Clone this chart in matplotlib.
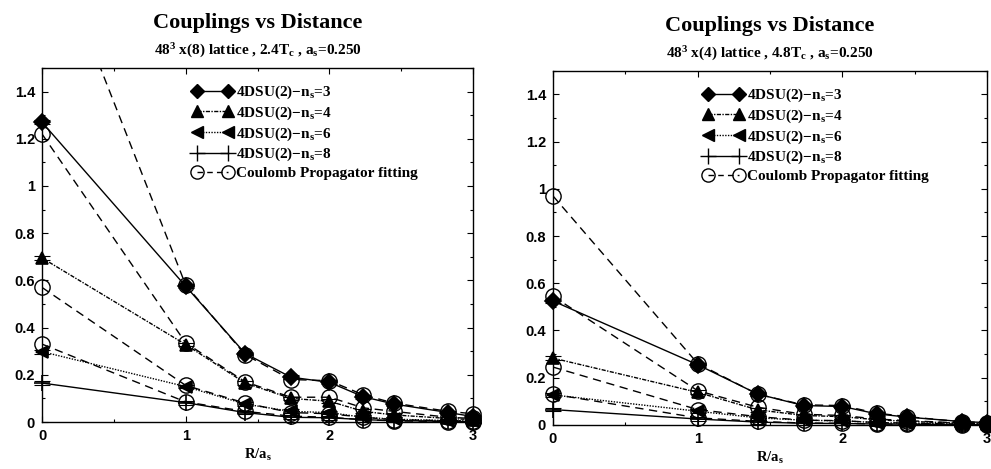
import numpy as np
import matplotlib
matplotlib.use("Agg")
import matplotlib.pyplot as plt
from matplotlib.lines import Line2D
from matplotlib.ticker import FuncFormatter, MultipleLocator

# ---------------- data ----------------
r_vals = [0, 1, np.sqrt(2), np.sqrt(3), 2, np.sqrt(5), np.sqrt(6), np.sqrt(8), 3]

series_labels = [r"4DSU(2)$-$n$_{\rm s}$=3", r"4DSU(2)$-$n$_{\rm s}$=4",
                 r"4DSU(2)$-$n$_{\rm s}$=6", r"4DSU(2)$-$n$_{\rm s}$=8"]
fit_label = "Coulomb Propagator fitting"

titles = ["Couplings vs Distance", "Couplings vs Distance"]
subtitles = [r"48$^{3}$ x(8) lattice , 2.4T$_{\rm c}$ , a$_{\rm s}$=0.250",
             r"48$^{3}$ x(4) lattice , 4.8T$_{\rm c}$ , a$_{\rm s}$=0.250"]
xlabel_text = r"R/a$_{\rm s}$"

# left panel: 48^3 x (8)
left_ns3 = [1.27, 0.575, 0.29, 0.19, 0.168, 0.107, 0.076, 0.04, 0.023]
left_ns4 = [0.695, 0.328, 0.165, 0.10, 0.088, 0.045, 0.03, 0.015, 0.01]
left_ns6 = [0.298, 0.15, 0.076, 0.045, 0.04, 0.02, 0.012, 0.006, 0.004]
left_ns8 = [0.165, 0.082, 0.04, 0.02, 0.018, 0.01, 0.006, 0.003, 0.002]
left_fit3 = [2.13, 0.58, 0.285, 0.18, 0.175, 0.115, 0.08, 0.045, 0.035]
left_fit4 = [1.22, 0.335, 0.17, 0.105, 0.105, 0.06, 0.045, 0.02, 0.015]
left_fit6 = [0.57, 0.155, 0.08, 0.04, 0.035, 0.02, 0.01, 0.005, 0.004]
left_fit8 = [0.33, 0.085, 0.045, 0.025, 0.02, 0.01, 0.005, 0.002, 0.0]

# right panel: 48^3 x (4)
right_ns3 = [0.525, 0.255, 0.131, 0.082, 0.078, 0.047, 0.033, 0.014, 0.01]
right_ns4 = [0.283, 0.138, 0.064, 0.04, 0.035, 0.022, 0.015, 0.007, 0.005]
right_ns6 = [0.127, 0.058, 0.03, 0.02, 0.017, 0.01, 0.007, 0.003, 0.002]
right_ns8 = [0.065, 0.025, 0.012, 0.007, 0.006, 0.004, 0.003, 0.001, 0.001]
right_fit3 = [0.97, 0.26, 0.13, 0.085, 0.082, 0.05, 0.035, 0.013, 0.01]
right_fit4 = [0.545, 0.145, 0.075, 0.045, 0.04, 0.025, 0.018, 0.008, 0.005]
right_fit6 = [0.245, 0.065, 0.035, 0.02, 0.018, 0.01, 0.008, 0.003, 0.002]
right_fit8 = [0.13, 0.03, 0.015, 0.008, 0.007, 0.004, 0.003, 0.001, 0.0]

yerr_size = 0.008

panels = [
    dict(data=[left_ns3, left_ns4, left_ns6, left_ns8],
         fits=[left_fit3, left_fit4, left_fit6, left_fit8]),
    dict(data=[right_ns3, right_ns4, right_ns6, right_ns8],
         fits=[right_fit3, right_fit4, right_fit6, right_fit8]),
]

# ---------------- style ----------------
SERIF = ["Liberation Serif", "DejaVu Serif"]
SANS = ["Liberation Sans", "DejaVu Sans"]
plt.rcParams["mathtext.fontset"] = "custom"
plt.rcParams["mathtext.rm"] = "Liberation Serif:bold"
plt.rcParams["mathtext.it"] = "Liberation Serif:bold"
plt.rcParams["mathtext.bf"] = "Liberation Serif:bold"

markers = ["D", "^", "<", "+"]
msizes = [8, 9, 9, 12]
leg_msizes = [7, 8, 8, 11]
lstyles = ["-", (0, (3, 1, 1, 1)), (0, (1, 1)), "-"]

fig = plt.figure(figsize=(9.91, 4.69), dpi=100)
axes_pos = [[0.0424, 0.1002, 0.435, 0.755], [0.558, 0.094, 0.438, 0.755]]
legend_x = [0.335, 0.333]

for pi, (panel, pos) in enumerate(zip(panels, axes_pos)):
    ax = fig.add_axes(pos)
    x = np.array(r_vals)
    for k in range(4):
        y = np.array(panel["data"][k])
        ax.plot(x, y, linestyle=lstyles[k], color="black", lw=1.0, zorder=3)
        ax.errorbar(x, y, yerr=yerr_size, fmt="none", ecolor="black",
                    elinewidth=0.8, capsize=6, capthick=0.8, zorder=3,
                    clip_on=False)
        ax.plot(x, y, linestyle="none", marker=markers[k], ms=msizes[k],
                mfc="black", mec="black", mew=1.2, color="black",
                clip_on=False, zorder=4)
        f = np.array(panel["fits"][k])
        ax.plot(x, f, linestyle=(0, (6, 4)), color="black", lw=1.0, zorder=2)
        inside = f <= 1.5
        ax.plot(x[inside], f[inside], linestyle="none", marker="o", ms=11,
                mfc="none", mec="black", mew=1.0, clip_on=False, zorder=5)

    ax.set_xlim(0, 3)
    ax.set_ylim(0, 1.5)
    ax.set_xticks([0, 1, 2, 3])
    ax.set_yticks([0, 0.2, 0.4, 0.6, 0.8, 1.0, 1.2, 1.4])
    ax.xaxis.set_minor_locator(MultipleLocator(0.5))
    ax.yaxis.set_minor_locator(MultipleLocator(0.1))
    ax.yaxis.set_major_formatter(FuncFormatter(lambda v, p: "%g" % round(v, 2)))
    ax.tick_params(which="both", direction="in", top=True, right=True,
                   length=4, width=0.8, labelsize=10.5, pad=5)
    ax.tick_params(which="minor", length=2)
    for lab in ax.get_xticklabels() + ax.get_yticklabels():
        lab.set_family(SANS)
        lab.set_fontweight("bold")
    for s in ax.spines.values():
        s.set_linewidth(1.0)

    ax.set_xlabel(xlabel_text, fontsize=10.5, family=SERIF, fontweight="bold",
                  labelpad=3)
    ax.text(0.5, 1.127, titles[pi], transform=ax.transAxes, ha="center",
            va="center", fontsize=16, family=SERIF, fontweight="bold")
    ax.text(0.5, 1.047, subtitles[pi], transform=ax.transAxes, ha="center",
            va="center", fontsize=11, family=SERIF, fontweight="bold")

    handles = []
    for k in range(4):
        handles.append(Line2D([0], [0], color="black", lw=1.0,
                              linestyle=lstyles[k], marker=markers[k],
                              ms=leg_msizes[k], mfc="black", mec="black"))
    handles.append(Line2D([0], [0], color="black", lw=1.0,
                          linestyle=(0, (4, 3)), marker="o", ms=9.5,
                          mfc="none", mec="black"))
    leg = ax.legend(handles, series_labels + [fit_label], loc="upper left",
                    bbox_to_anchor=(legend_x[pi], 0.972), frameon=False,
                    numpoints=2, handlelength=2.6, handletextpad=0.25,
                    labelspacing=0.22, borderaxespad=0.0,
                    prop=dict(family=SERIF, weight="bold", size=11))

fig.savefig("out.png", dpi=100)
